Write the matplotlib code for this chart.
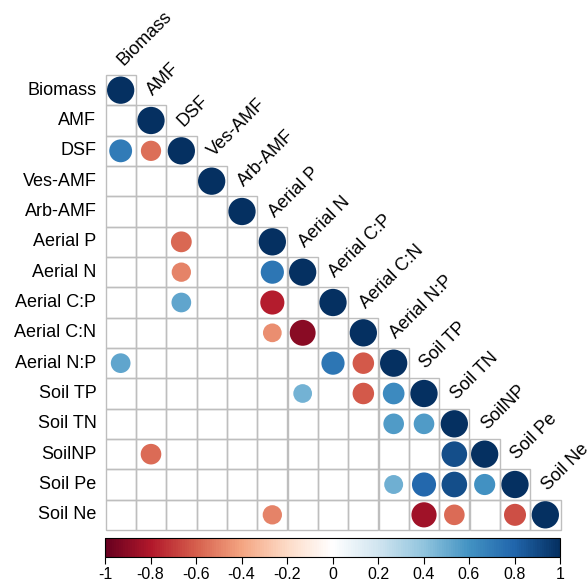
import numpy as np
import matplotlib
matplotlib.use("Agg")
import matplotlib.pyplot as plt
from matplotlib.colors import LinearSegmentedColormap, Normalize
from matplotlib.patches import Circle, Rectangle
from matplotlib.cm import ScalarMappable

plt.rcParams["font.family"] = ["Liberation Sans", "DejaVu Sans"]

# Variable names (rows and columns of the correlation matrix)
variables = ["Biomass", "AMF", "DSF", "Ves-AMF", "Arb-AMF", "Aerial P", "Aerial N",
             "Aerial C:P", "Aerial C:N", "Aerial N:P", "Soil TP", "Soil TN",
             "SoilNP", "Soil Pe", "Soil Ne"]

# Significant correlations in the lower triangle: (row, column, r)
pairs_row = [2, 2, 5, 6, 6, 7, 7, 8, 8, 9, 9, 9, 10, 10, 10, 11, 11, 12, 12,
             13, 13, 13, 13, 14, 14, 14, 14]
pairs_col = [0, 1, 2, 2, 5, 2, 5, 5, 6, 0, 7, 8, 6, 8, 9, 9, 10, 1, 11,
             9, 10, 11, 12, 5, 10, 11, 13]
pairs_r = [0.70, -0.55, -0.58, -0.50, 0.72, 0.52, -0.78, -0.47, -0.90, 0.52, 0.72, -0.62,
           0.47, -0.62, 0.63, 0.57, 0.57, -0.57, 0.88,
           0.48, 0.78, 0.88, 0.60, -0.50, -0.85, -0.57, -0.65]

# Colour-bar ticks
cbar_ticks = [-1, -0.8, -0.6, -0.4, -0.2, 0, 0.2, 0.4, 0.6, 0.8, 1]
cbar_labels = ["-1", "-0.8", "-0.6", "-0.4", "-0.2", "0", "0.2", "0.4", "0.6", "0.8", "1"]

n = len(variables)
corr = np.full((n, n), np.nan)
for i in range(n):
    corr[i, i] = 1.0
for i, j, r in zip(pairs_row, pairs_col, pairs_r):
    corr[i, j] = r

palette = ["#67001F", "#B2182B", "#D6604D", "#F4A582", "#FDDBC7", "#FFFFFF",
           "#D1E5F0", "#92C5DE", "#4393C3", "#2166AC", "#053061"]
cmap = LinearSegmentedColormap.from_list("RdBu_corr", palette, N=200)
norm = Normalize(-1, 1)

W, H = 587, 581
fig = plt.figure(figsize=(W / 100, H / 100), dpi=100)

gx0, gx1, gy0, gy1 = 105.5, 560.5, 75.0, 530.0
ax = fig.add_axes([gx0 / W, 1 - gy1 / H, (gx1 - gx0) / W, (gy1 - gy0) / H])
ax.set_xlim(0, n)
ax.set_ylim(n, 0)
ax.axis("off")

# Grid cells of the lower triangle
for i in range(n):
    for j in range(i + 1):
        ax.add_patch(Rectangle((j, i), 1, 1, facecolor="none", edgecolor="#BEBEBE",
                               lw=1.0, zorder=1, clip_on=False))

# Circles: area proportional to |r|
for i in range(n):
    for j in range(i + 1):
        r = corr[i, j]
        if np.isnan(r):
            continue
        rad = 0.45 * np.sqrt(abs(r))
        ax.add_patch(Circle((j + 0.5, i + 0.5), rad, facecolor=cmap(norm(r)),
                            edgecolor="none", zorder=2, clip_on=False))

# Row labels
for i, name in enumerate(variables):
    ax.text(-0.3, i + 0.5, name, ha="right", va="center", fontsize=13, color="black")

# Diagonal column labels
for j, name in enumerate(variables):
    ax.text(j + 0.5 + 0.08, j - 0.3, name, rotation=45, rotation_mode="anchor",
            ha="left", va="baseline", fontsize=13, color="black", clip_on=False)

# Colour bar
cax = fig.add_axes([105 / W, 1 - 557 / H, 455 / W, 19 / H])
cb = fig.colorbar(ScalarMappable(norm=norm, cmap=cmap), cax=cax, orientation="horizontal")
cb.set_ticks(cbar_ticks)
cb.set_ticklabels(cbar_labels)
cb.outline.set_linewidth(0.8)
cb.outline.set_edgecolor("black")
cax.tick_params(axis="x", length=5, width=0.8, labelsize=11.5, pad=2, colors="black")

fig.savefig("out.png", dpi=100)
